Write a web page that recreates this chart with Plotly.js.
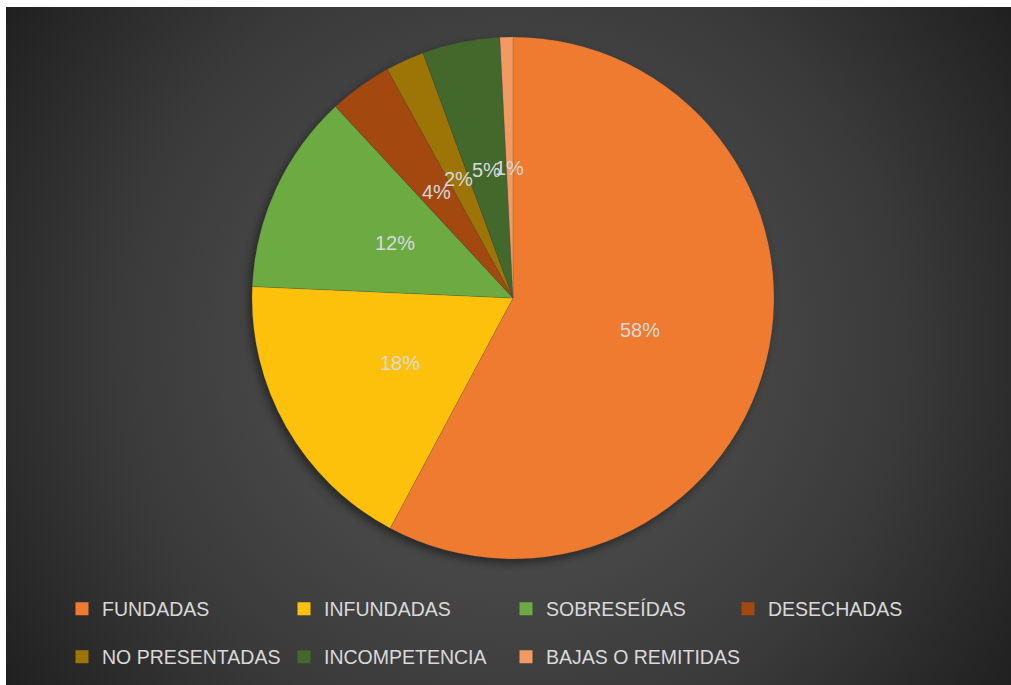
<!DOCTYPE html>
<html>
<head>
<meta charset="utf-8">
<script src="https://cdn.plot.ly/plotly-3.0.1.min.js"></script>
<style>
  html, body { margin: 0; padding: 0; background: #ffffff; }
  #bg {
    position: absolute; left: 6px; top: 7px; width: 1005px; height: 678px;
    background: radial-gradient(circle farthest-corner at 50% 50%, #4d4d4d 0%, #484848 35%, #3a3a3a 65%, #202020 100%);
  }
  #chart { position: absolute; left: 0; top: 0; width: 1011px; height: 685px; }
  .pielayer .trace { filter: drop-shadow(-3px 4px 4px rgba(0,0,0,0.45)); }
</style>
</head>
<body>
<div id="bg"></div>
<div id="chart"></div>
<script>
// ---- data ----
const categories = ['FUNDADAS', 'INFUNDADAS', 'SOBRESEÍDAS', 'DESECHADAS', 'NO PRESENTADAS', 'INCOMPETENCIA', 'BAJAS O REMITIDAS'];
const values = [57.8, 17.9, 12.4, 3.9, 2.4, 4.8, 0.8];
const colors = ['#EE7B30', '#FDC10C', '#6BAB42', '#A3480F', '#9C7506', '#43682B', '#F29A62'];
const legendRow = ['legend', 'legend', 'legend', 'legend', 'legend2', 'legend2', 'legend2'];

// ---- layout constants ----
const W = 1011, H = 685;
const cx = 513, cy = 298, R = 261;
const textColor = '#D9D9D9';
const fontFam = 'Liberation Sans, Arial, sans-serif';

const total = values.reduce((a, b) => a + b, 0);

const pie = {
  type: 'pie',
  labels: categories,
  values: values,
  sort: false,
  direction: 'clockwise',
  rotation: 0,
  marker: { colors: colors, line: { color: 'rgba(70,70,70,0.35)', width: 0.6 } },
  textinfo: 'none',
  hoverinfo: 'label+percent',
  showlegend: false,
  domain: { x: [(cx - R) / W, (cx + R) / W], y: [(H - cy - R) / H, (H - cy + R) / H] }
};

const legendTraces = categories.map((c, i) => ({
  type: 'scatter', mode: 'markers', x: [null], y: [null],
  name: c, legend: legendRow[i], showlegend: true, hoverinfo: 'skip',
  legendwidth: (i === categories.length - 1) ? 230 : undefined,
  marker: { symbol: 'square', size: 13, color: colors[i] }
}));

// percentage labels at half radius of each slice, derived from the values
const annotations = [];
let cum = 0;
values.forEach((v) => {
  const mid = (cum + v / 2) / total;
  cum += v;
  const th = 2 * Math.PI * mid;
  const px = cx + 0.5 * R * Math.sin(th);
  const py = cy - 0.5 * R * Math.cos(th);
  annotations.push({
    xref: 'paper', yref: 'paper', x: px / W, y: 1 - py / H,
    text: Math.round(100 * v / total) + '%', showarrow: false,
    xanchor: 'center', yanchor: 'middle',
    font: { family: fontFam, size: 20, color: textColor }
  });
});

const legendBase = {
  orientation: 'h', xref: 'container', yref: 'container',
  xanchor: 'left', yanchor: 'middle',
  bgcolor: 'rgba(0,0,0,0)', borderwidth: 0,
  entrywidth: 177, entrywidthmode: 'pixels',
  font: { family: fontFam, size: 19.5, color: textColor },
  itemclick: false, itemdoubleclick: false
};

const layout = {
  width: W, height: H,
  margin: { l: 0, r: 0, t: 0, b: 0, autoexpand: false },
  paper_bgcolor: 'rgba(0,0,0,0)',
  plot_bgcolor: 'rgba(0,0,0,0)',
  xaxis: { visible: false }, yaxis: { visible: false },
  showlegend: true,
  legend: Object.assign({}, legendBase, { x: 62 / W, y: 1 - 609 / H }),
  legend2: Object.assign({}, legendBase, { x: 62 / W, y: 1 - 657 / H }),
  annotations: annotations
};

Plotly.newPlot('chart', [pie].concat(legendTraces), layout, { displayModeBar: false });
</script>
</body>
</html>
